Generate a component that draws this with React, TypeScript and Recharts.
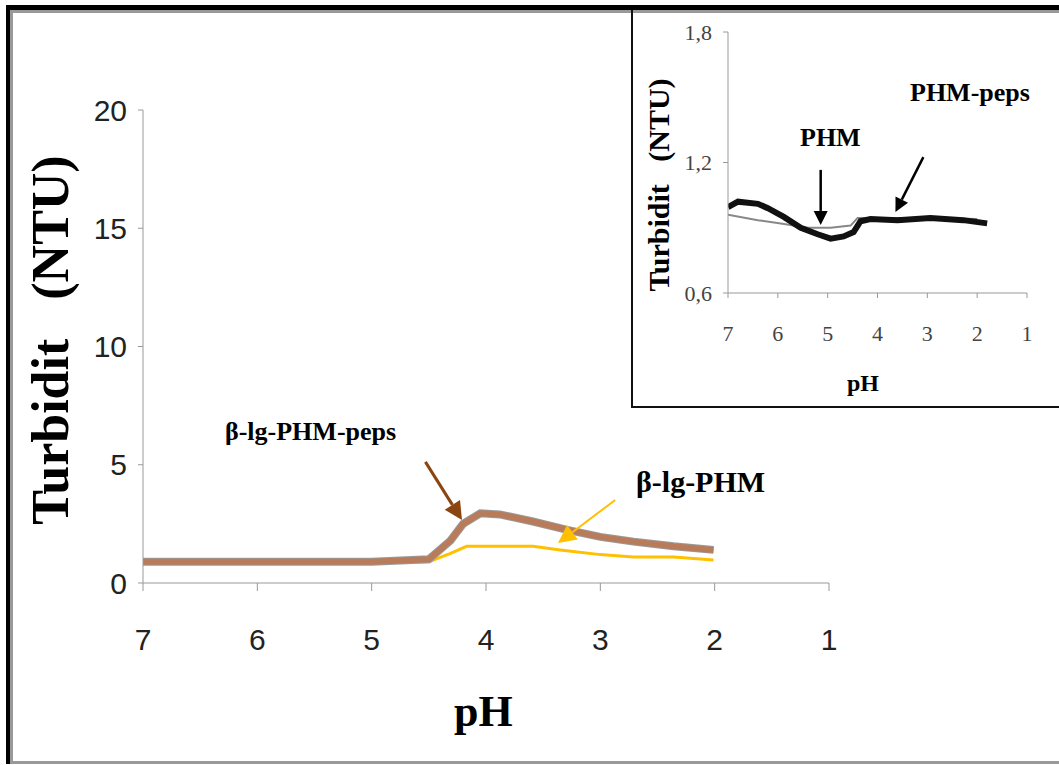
import React from "react";
import {
  LineChart,
  Line,
  XAxis,
  YAxis,
  ReferenceLine,
} from "recharts";

// --- main chart: turbidity vs pH ---
const phTicks = [7, 6, 5, 4, 3, 2, 1];
const mainYTicks = [0, 5, 10, 15, 20];

// β-lg-PHM-peps (brown)
const pepsPh = [7.0, 6.5, 6.0, 5.5, 5.0, 4.5, 4.31, 4.2, 4.05, 3.88, 3.59, 3.29, 3.0, 2.71, 2.36, 2.01];
const pepsTurb = [0.9, 0.9, 0.9, 0.9, 0.9, 1.0, 1.8, 2.5, 2.95, 2.9, 2.6, 2.25, 1.95, 1.75, 1.55, 1.4];

// β-lg-PHM (yellow)
const phmPh = [7.0, 6.0, 5.0, 4.5, 4.31, 4.17, 3.59, 3.35, 3.0, 2.71, 2.36, 2.01];
const phmTurb = [0.88, 0.88, 0.88, 0.9, 1.25, 1.55, 1.55, 1.4, 1.2, 1.1, 1.1, 0.97];

// --- inset: PHM alone and PHM-peps alone ---
const insetYTicks = [0.6, 1.2, 1.8];

const insetPepsPh = [7.0, 6.8, 6.4, 6.2, 5.88, 5.54, 5.2, 4.94, 4.68, 4.48, 4.34, 4.14, 3.6, 2.94, 2.28, 1.8];
const insetPepsTurb = [0.995, 1.02, 1.01, 0.99, 0.95, 0.9, 0.87, 0.85, 0.86, 0.88, 0.93, 0.94, 0.935, 0.945, 0.935, 0.92];

const insetPhmPh = [7.0, 6.4, 5.94, 5.4, 4.94, 4.54, 4.4, 4.0, 3.0, 2.0];
const insetPhmTurb = [0.96, 0.935, 0.92, 0.9, 0.9, 0.91, 0.945, 0.945, 0.945, 0.94];

const toRows = (ph: number[], v: number[]) => ph.map((p, i) => ({ ph: p, v: v[i] }));

const serif = "'Liberation Serif', 'Times New Roman', serif";
const sans = "'Liberation Sans', Arial, sans-serif";

// arrow drawn along a ReferenceLine segment
const arrowShape = (color: string, head: number, width: number) => (props: any) => {
  const { x1, y1, x2, y2 } = props;
  const dx = x2 - x1;
  const dy = y2 - y1;
  const len = Math.hypot(dx, dy) || 1;
  const ux = dx / len;
  const uy = dy / len;
  const bx = x2 - ux * head;
  const by = y2 - uy * head;
  const px = -uy * head * 0.5;
  const py = ux * head * 0.5;
  return (
    <g>
      <line x1={x1} y1={y1} x2={bx} y2={by} stroke={color} strokeWidth={width} />
      <polygon
        points={`${x2},${y2} ${bx + px},${by + py} ${bx - px},${by - py}`}
        fill={color}
      />
    </g>
  );
};

const Text = ({ left, top, size, children, bold = true, family = serif }: any) => (
  <div
    style={{
      position: "absolute",
      left,
      top,
      fontSize: size,
      lineHeight: `${size}px`,
      fontFamily: family,
      fontWeight: bold ? 700 : 400,
      whiteSpace: "pre",
      color: "#000",
    }}
  >
    {children}
  </div>
);

const RotText = ({ cx, cy, size, children }: any) => (
  <div
    style={{
      position: "absolute",
      left: cx - 250,
      top: cy - size / 2,
      width: 500,
      height: size,
      fontSize: size,
      lineHeight: `${size}px`,
      fontFamily: serif,
      fontWeight: 700,
      whiteSpace: "pre",
      textAlign: "center",
      transform: "rotate(-90deg)",
    }}
  >
    {children}
  </div>
);

const MainChart = () => (
  <LineChart
    width={1059}
    height={765}
    margin={{ top: 110, right: 230, left: 83, bottom: 122 }}
    style={{ position: "absolute", left: 0, top: 0 }}
  >
    <XAxis
      type="number"
      dataKey="ph"
      domain={[1, 7]}
      ticks={phTicks}
      reversed
      allowDataOverflow
      height={60}
      stroke="#999"
      tickSize={8}
      tickMargin={38}
      tick={{ fill: "#222", fontSize: 30, fontFamily: sans }}
    />
    <YAxis
      type="number"
      domain={[0, 20]}
      ticks={mainYTicks}
      width={60}
      stroke="#999"
      tickSize={5}
      tickMargin={11}
      tick={{ fill: "#222", fontSize: 30, fontFamily: sans }}
    />
    <Line
      data={toRows(phmPh, phmTurb)}
      dataKey="v"
      type="linear"
      stroke="#ffc000"
      strokeWidth={3}
      dot={false}
      isAnimationActive={false}
    />
    <Line
      data={toRows(pepsPh, pepsTurb)}
      dataKey="v"
      type="linear"
      stroke="#9a9a9a"
      strokeWidth={8}
      dot={false}
      isAnimationActive={false}
    />
    <Line
      data={toRows(pepsPh, pepsTurb)}
      dataKey="v"
      type="linear"
      stroke="#b97c5b"
      strokeWidth={6}
      dot={false}
      isAnimationActive={false}
    />
    <ReferenceLine
      segment={[{ x: 4.53, y: 5.12 }, { x: 4.21, y: 2.66 }]}
      ifOverflow="visible"
      shape={arrowShape("#8b4510", 18, 3)}
    />
    <ReferenceLine
      segment={[{ x: 2.87, y: 3.51 }, { x: 3.37, y: 1.69 }]}
      ifOverflow="visible"
      shape={arrowShape("#ffc000", 18, 2)}
    />
  </LineChart>
);

const InsetChart = () => (
  <LineChart
    width={427}
    height={398}
    margin={{ top: 22, right: 32, left: 36, bottom: 55 }}
    style={{ position: "absolute", left: 632, top: 10 }}
  >
    <XAxis
      type="number"
      dataKey="ph"
      domain={[1, 7]}
      ticks={phTicks}
      reversed
      allowDataOverflow
      height={60}
      stroke="#999"
      tickSize={5}
      tickMargin={27}
      tick={{ fill: "#444", fontSize: 22, fontFamily: serif }}
    />
    <YAxis
      type="number"
      domain={[0.6, 1.8]}
      ticks={insetYTicks}
      width={60}
      stroke="#999"
      tickSize={5}
      tickMargin={11}
      tickFormatter={(v: number) => v.toFixed(1).replace(".", ",")}
      tick={{ fill: "#444", fontSize: 22, fontFamily: serif }}
    />
    <Line
      data={toRows(insetPhmPh, insetPhmTurb)}
      dataKey="v"
      type="linear"
      stroke="#888"
      strokeWidth={2}
      dot={false}
      isAnimationActive={false}
    />
    <Line
      data={toRows(insetPepsPh, insetPepsTurb)}
      dataKey="v"
      type="linear"
      stroke="#111"
      strokeWidth={6}
      dot={false}
      isAnimationActive={false}
    />
    <ReferenceLine
      segment={[{ x: 5.14, y: 1.166 }, { x: 5.14, y: 0.913 }]}
      ifOverflow="visible"
      shape={arrowShape("#000", 14, 2.5)}
    />
    <ReferenceLine
      segment={[{ x: 3.08, y: 1.225 }, { x: 3.64, y: 0.972 }]}
      ifOverflow="visible"
      shape={arrowShape("#000", 14, 2.5)}
    />
  </LineChart>
);

export default function App() {
  return (
    <div
      style={{
        position: "fixed",
        left: 0,
        top: 0,
        width: 1059,
        height: 765,
        background: "#fff",
        overflow: "hidden",
      }}
    >
      {/* outer frame */}
      <div
        style={{
          position: "absolute",
          left: 6,
          top: 5,
          width: 1100,
          height: 759,
          boxSizing: "border-box",
          borderLeft: "4px solid #000",
          borderTop: "5px solid #000",
        }}
      >
        <div
          style={{
            position: "absolute",
            inset: 0,
            borderLeft: "3px solid #999",
            borderTop: "3px solid #999",
            borderBottom: "3px solid #999",
          }}
        />
      </div>

      <MainChart />

      {/* inset box */}
      <div
        style={{
          position: "absolute",
          left: 631,
          top: 10,
          width: 500,
          height: 398,
          boxSizing: "border-box",
          borderLeft: "2px solid #111",
          borderBottom: "2px solid #111",
        }}
      />
      <InsetChart />

      {/* main chart texts */}
      <RotText cx={51} cy={340} size={52}>{"Turbidit   (NTU)"}</RotText>
      <Text left={454} top={690} size={44}>pH</Text>
      <Text left={225} top={419} size={26}>β-lg-PHM-peps</Text>
      <Text left={636} top={467} size={30}>β-lg-PHM</Text>

      {/* inset texts */}
      <RotText cx={659} cy={185} size={30}>{"Turbidit   (NTU)"}</RotText>
      <Text left={847} top={371} size={24}>pH</Text>
      <Text left={800} top={125} size={26}>PHM</Text>
      <Text left={910} top={80} size={26}>PHM-peps</Text>
    </div>
  );
}
